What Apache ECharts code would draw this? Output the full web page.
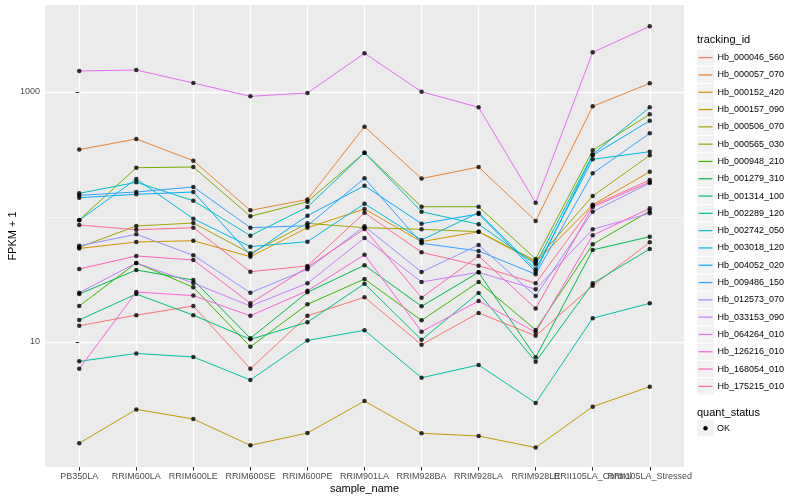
<!DOCTYPE html>
<html><head><meta charset="utf-8">
<script src="https://cdn.jsdelivr.net/npm/echarts@6/dist/echarts.min.js"></script>
<style>html,body{margin:0;padding:0;background:#fff}#c{width:800px;height:500px}</style>
</head><body><div id="c"></div>
<script>
// ---- data ----
const categories = ['PB350LA','RRIM600LA','RRIM600LE','RRIM600SE','RRIM600PE','RRIM901LA','RRIM928BA','RRIM928LA','RRIM928LE','RRII105LA_Control','RRII105LA_Stressed'];
const trackingIds = ['Hb_000046_560','Hb_000057_070','Hb_000152_420','Hb_000157_090','Hb_000506_070','Hb_000565_030','Hb_000948_210','Hb_001279_310','Hb_001314_100','Hb_002289_120','Hb_002742_050','Hb_003018_120','Hb_004052_020','Hb_009486_150','Hb_012573_070','Hb_033153_090','Hb_064264_010','Hb_126216_010','Hb_168054_010','Hb_175215_010'];
const Hb_000046_560 = [13.5, 16.4, 19.4, 6.11, 16.2, 22.8, 9.52, 17.1, 11.2, 28.2, 62.8];
const Hb_000057_070 = [346, 421, 282, 113, 138, 528, 203, 251, 93, 768, 1173];
const Hb_000152_420 = [56.0, 63.1, 64.6, 48.1, 82.1, 115.9, 63.5, 76.3, 43.4, 125.4, 230];
const Hb_000157_090 = [1.55, 2.89, 2.42, 1.49, 1.87, 3.37, 1.86, 1.77, 1.43, 3.04, 4.39];
const Hb_000506_070 = [57.2, 84.7, 89.5, 51.2, 89.0, 82.1, 79.7, 76.3, 44.7, 147, 311.5];
const Hb_000565_030 = [94.6, 248, 251, 101.3, 132.6, 326.9, 120.9, 120.9, 46.1, 341.7, 663];
const Hb_000948_210 = [19.4, 42.9, 27.4, 9.17, 20.0, 31.9, 14.9, 30.2, 12.5, 60.5, 111.7];
const Hb_001279_310 = [24.2, 37.7, 31.3, 10.7, 25.0, 41.1, 19.3, 36.1, 7.54, 54.5, 69.6];
const Hb_001314_100 = [15.0, 24.2, 16.4, 10.5, 14.4, 29.3, 10.4, 24.7, 6.96, 29.5, 55.5];
const Hb_002289_120 = [7.0, 8.1, 7.59, 4.97, 10.3, 12.4, 5.18, 6.55, 3.25, 15.5, 20.4];
const Hb_002742_050 = [154.7, 189.5, 135, 70.9, 120.2, 327, 110.3, 87.4, 41.8, 317.4, 754];
const Hb_003018_120 = [94.1, 201.4, 96.9, 57.9, 63.5, 127.8, 65.5, 108.2, 38.2, 289.4, 333];
const Hb_004052_020 = [142.7, 151.9, 158.5, 49.7, 102.4, 178, 88.4, 105.7, 36.5, 311.5, 589];
const Hb_009486_150 = [149.1, 158.5, 173.8, 82.1, 85.2, 204, 61.6, 53.5, 34.8, 223.6, 467];
const Hb_012573_070 = [58.9, 72.7, 49.4, 24.8, 38.2, 84.2, 36.3, 59.7, 23.3, 110.3, 187];
const Hb_033153_090 = [24.8, 42.9, 29.6, 19.4, 29.5, 67.9, 30.2, 36.1, 26.4, 79.7, 107];
const Hb_064264_010 = [1472, 1500, 1180, 923, 982, 2040, 1005, 754, 130, 2077, 3350];
const Hb_126216_010 = [6.11, 25.1, 23.5, 16.2, 25.7, 49.9, 12.1, 21.3, 11.96, 71.4, 117.4];
const Hb_168054_010 = [38.4, 48.8, 45.3, 20.4, 39.6, 80.2, 22.6, 48.8, 18.5, 120.2, 190.5];
const Hb_175215_010 = [86.3, 79.1, 82.1, 36.5, 40.6, 108.2, 52.2, 40.8, 29.5, 123.6, 197.7];
const seriesValues = [Hb_000046_560, Hb_000057_070, Hb_000152_420, Hb_000157_090, Hb_000506_070, Hb_000565_030, Hb_000948_210, Hb_001279_310, Hb_001314_100, Hb_002289_120, Hb_002742_050, Hb_003018_120, Hb_004052_020, Hb_009486_150, Hb_012573_070, Hb_033153_090, Hb_064264_010, Hb_126216_010, Hb_168054_010, Hb_175215_010];
const yMajorTicks = [10, 1000];
const yMinorTicks = [1, 100];
const quantStatus = ['OK'];

// ---- style ----
const palette = ['#F8766D','#EA8331','#D89000','#C09B00','#A3A500','#7CAE00','#39B600','#00BB4E','#00BF7D','#00C1A3','#00BFC4','#00BAE0','#00B0F6','#35A2FF','#9590FF','#C77CFF','#E76BF3','#FA62DB','#FF62BC','#FF6C91'];
const FONT = '"Liberation Sans", Arial, sans-serif';
const xTicks = categories.map((c, i) => i);
// labels split over two axes so that overlapping neighbours are both drawn (as in the reference)
const xLabelsA = xTicks.filter(i => i % 2 === 0);
const xLabelsB = xTicks.filter(i => i % 2 === 1);

const lineSeries = trackingIds.map((id, k) => ({
  name: id, type: 'line', showSymbol: false, symbol: 'none', silent: true,
  color: palette[k], lineStyle: { width: 1, color: palette[k] },
  data: seriesValues[k].map((v, i) => [i, v]), z: 2
}));
const pointData = [];
seriesValues.forEach(vals => vals.forEach((v, i) => pointData.push([i, v])));
const pointSeries = {
  name: quantStatus[0], type: 'scatter', symbol: 'circle', symbolSize: 4.5,
  itemStyle: { color: '#000' }, data: pointData, z: 5, silent: true
};

const legendTop = 49, legendStep = 17.3;
const graphics = [];
trackingIds.forEach((id, i) => {
  graphics.push({ type: 'rect', silent: true, z: 0, shape: { x: 697, y: legendTop + i * legendStep + 0.5, width: 17, height: 16.3 }, style: { fill: '#F2F2F2' } });
});
graphics.push({ type: 'text', silent: true, style: { text: 'tracking_id', x: 697, y: 40, fill: '#000', font: '11px ' + FONT, verticalAlign: 'middle' } });
graphics.push({ type: 'text', silent: true, style: { text: 'quant_status', x: 697, y: 412.7, fill: '#000', font: '11px ' + FONT, verticalAlign: 'middle' } });
graphics.push({ type: 'rect', silent: true, shape: { x: 697, y: 420, width: 17, height: 16.3 }, style: { fill: '#F2F2F2' } });
graphics.push({ type: 'circle', silent: true, shape: { cx: 705.5, cy: 428.2, r: 2.2 }, style: { fill: '#000' } });
graphics.push({ type: 'text', silent: true, style: { text: quantStatus[0], x: 717, y: 428.2, fill: '#000', font: '9px ' + FONT, verticalAlign: 'middle' } });

const labelStyle = { color: '#4D4D4D', fontSize: 9, margin: 5, fontFamily: FONT, hideOverlap: false, showMinLabel: true, showMaxLabel: true, formatter: v => categories[Math.round(v)] };

const chart = echarts.init(document.getElementById('c'));
chart.setOption({
  animation: false,
  backgroundColor: '#fff',
  textStyle: { fontFamily: FONT },
  grid: { left: 45, right: 116, top: 5, bottom: 33, show: true, backgroundColor: '#EBEBEB', borderWidth: 0, containLabel: false, outerBoundsMode: 'none' },
  xAxis: [{
    type: 'value', min: -0.6, max: 10.6, position: 'bottom',
    name: 'sample_name', nameLocation: 'middle', nameGap: 16, nameMoveOverlap: false,
    nameTextStyle: { color: '#000', fontSize: 11, fontFamily: FONT },
    axisLine: { show: false },
    axisTick: { show: true, length: 3.7, lineStyle: { color: '#333', width: 1 }, customValues: xTicks },
    axisLabel: Object.assign({ customValues: xLabelsA }, labelStyle),
    splitLine: { show: true, lineStyle: { color: '#FFFFFF', width: 1.3 } }
  }, {
    type: 'value', min: -0.6, max: 10.6, position: 'bottom', offset: 0,
    axisLine: { show: false },
    axisTick: { show: false, customValues: xTicks },
    axisLabel: Object.assign({ customValues: xLabelsB }, labelStyle),
    splitLine: { show: false }
  }],
  yAxis: [{
    type: 'log', logBase: 10, min: 1, max: 4966,
    name: 'FPKM + 1', nameLocation: 'middle', nameGap: 27, nameRotate: 90, nameMoveOverlap: false,
    nameTextStyle: { color: '#000', fontSize: 11, fontFamily: FONT },
    axisLine: { show: false },
    axisTick: { show: true, length: 3.7, lineStyle: { color: '#333', width: 1 }, customValues: yMajorTicks },
    axisLabel: { customValues: yMajorTicks, color: '#4D4D4D', fontSize: 9, margin: 5, fontFamily: FONT, formatter: v => String(Math.round(v)) },
    splitLine: { show: true, lineStyle: { color: '#FFFFFF', width: 1.3 } }
  }, {
    type: 'log', logBase: 10, min: 1, max: 4966, position: 'left',
    axisLine: { show: false },
    axisTick: { show: false, customValues: yMinorTicks },
    axisLabel: { show: false, customValues: yMinorTicks },
    splitLine: { show: true, lineStyle: { color: 'rgba(255,255,255,0.85)', width: 0.6 } }
  }],
  legend: {
    data: trackingIds, orient: 'vertical', left: 698.5, top: legendTop, padding: 0,
    icon: 'rect', itemWidth: 14, itemHeight: 1.2, itemGap: 0,
    textStyle: { fontSize: 9, color: '#000', fontFamily: FONT, lineHeight: legendStep },
    selectedMode: false
  },
  graphic: graphics,
  series: lineSeries.concat([pointSeries])
});
</script></body></html>
